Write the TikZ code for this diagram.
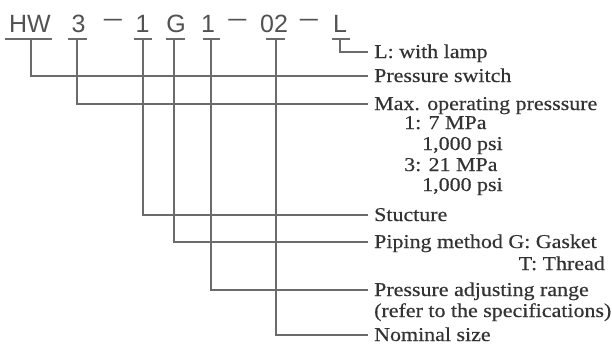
\documentclass[tikz,border=0pt]{standalone}
\usepackage{fontspec}
\usepackage{xcolor}
\usepackage{tikz}
\usetikzlibrary{positioning}
\newfontfamily\codefont{Liberation Sans}
\newfontfamily\lblfont[FakeStretch=1.12,FakeBold=0.4]{Liberation Serif}
\definecolor{ink}{gray}{0.2}
\definecolor{leadgray}{gray}{0.42}

\begin{document}
\begin{tikzpicture}[x=1pt,y=-1pt,
  code/.style={font=\codefont\fontsize{25}{30}\selectfont, text=ink!85, anchor=base, inner sep=0pt},
  lbl/.style={font=\lblfont\fontsize{19.6}{21}\selectfont, text=ink, anchor=west,
    inner xsep=6pt, inner ysep=0pt, text height=16pt, text depth=4pt},
  sub/.style={lbl, anchor=base west},
  lead/.style={draw=leadgray, line width=1.1pt}]
  \useasboundingbox (0,0) rectangle (612,351);
  % model code HW3-1G1-02-L
  \node[code] (hw)    at (30,32)    {HW};
  \node[code] (three) at (78.5,32)  {3};
  \node[code] (dasha) at (113,26)   {\scalebox{1.3}[1]{–}};
  \node[code] (onea)  at (142.5,32) {1};
  \node[code] (gee)   at (176,32)   {G};
  \node[code] (oneb)  at (208,32)   {1};
  \node[code] (dashb) at (237.5,26) {\scalebox{1.3}[1]{–}};
  \node[code] (oz)    at (274,32)   {02};
  \node[code] (dashc) at (309,26)   {\scalebox{1.3}[1]{–}};
  \node[code] (ell)   at (340,32)   {L};
  % underlines
  \foreach \a/\b in {5/52,68/87,134/152,166/185,203/220,266/285,332/350}
    \draw[lead] (\a,39) -- (\b,39);
  \coordinate (u-hw)    at (31,39);
  \coordinate (u-three) at (77,39);
  \coordinate (u-onea)  at (143,39);
  \coordinate (u-gee)   at (174,39);
  \coordinate (u-oneb)  at (211,39);
  \coordinate (u-oz)    at (276,39);
  \coordinate (u-ell)   at (340,39);
  % labels
  \node[lbl] (lamp)  at (368,52)  {L: with lamp};
  \node[lbl] (sw)    at (368,76)  {Pressure switch};
  \node[lbl] (maxp)  at (368,104) {Max. operating presssure};
  \node[sub] (mpa1)  at (398,129) {1: 7 MPa};
  \node[sub] (psi1)  at (416,150) {1,000 psi};
  \node[sub] (mpa3)  at (398,171) {3: 21 MPa};
  \node[sub] (psi3)  at (416,191) {1,000 psi};
  \node[lbl] (struc) at (368,215) {Stucture};
  \node[lbl] (pipe)  at (368,242) {Piping method G: Gasket};
  \node[sub,anchor=base east] (thread) at (611,270) {T: Thread};
  \node[lbl] (range) at (368,290) {Pressure adjusting range};
  \node[sub] (spec)  at (368,317) {(refer to the specifications)};
  \node[lbl] (nom)   at (368,335) {Nominal size};
  % leaders
  \draw[lead] (u-ell) |- (lamp.west);
  \draw[lead] (u-hw) |- (sw.west);
  \draw[lead] (u-three) |- (maxp.west);
  \draw[lead] (u-onea) |- (struc.west);
  \draw[lead] (u-gee) |- (pipe.west);
  \draw[lead] (u-oneb) |- (range.west);
  \draw[lead] (u-oz) |- (nom.west);
\end{tikzpicture}
\end{document}
